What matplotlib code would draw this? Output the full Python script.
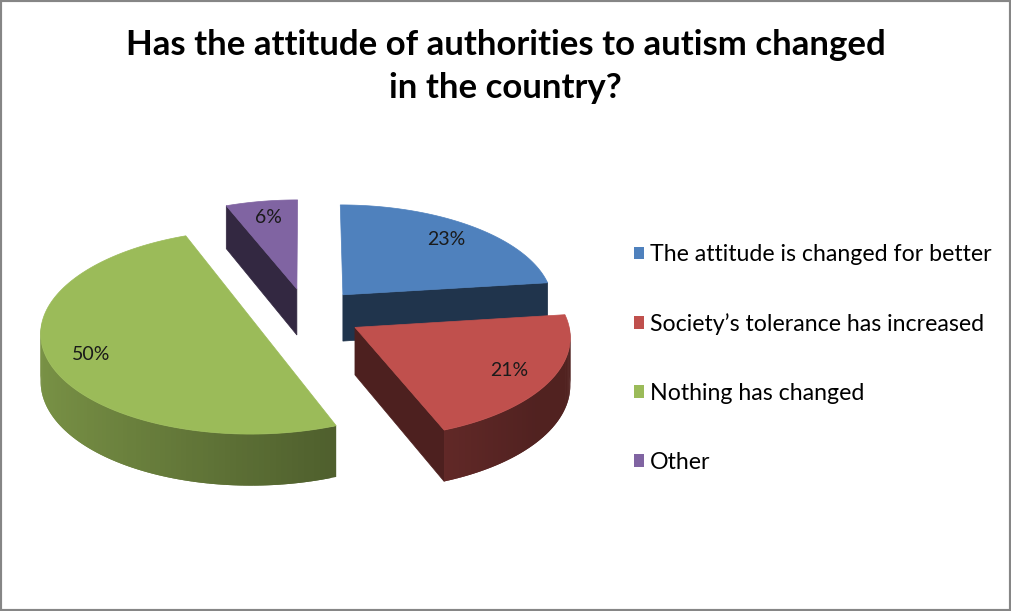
import numpy as np
import matplotlib
matplotlib.use('Agg')
import matplotlib.pyplot as plt
from matplotlib.patches import Polygon, Patch, Rectangle
from matplotlib.colors import to_rgb

# data
categories = ['The attitude is changed for better',
              'Society\u2019s tolerance has increased',
              'Nothing has changed',
              'Other']
values = [23, 21, 50, 6]
pct_labels = ['23%', '21%', '50%', '6%']
colors = ['#4f81bd', '#c0504d', '#9bbb59', '#8064a2']

# geometry of the fake 3d pie (pixels)
W, H = 1011, 611
CX, CY = 307, 314
RX, RY = 212, 100
DEPTH = 47
EXPLODE = 0.26
PERSP = 0.08

plt.rcParams['font.family'] = ['Lato', 'DejaVu Sans']

fig = plt.figure(figsize=(W / 100, H / 100), dpi=100)
ax = fig.add_axes([0, 0, 1, 1])
ax.set_xlim(0, W)
ax.set_ylim(H, 0)
ax.axis('off')


def project(X, Y, Z):
    s = 1.0 / (1.0 + PERSP * Y)
    return CX + RX * X * s, CY - (RY * Y + DEPTH * Z) * s


def shade(c, f):
    r, g, b = to_rgb(c)
    return (r * f, g * f, b * f)


total = float(sum(values))
ends = np.cumsum(values) / total * 2 * np.pi
starts = ends - np.array(values) / total * 2 * np.pi
mids = (starts + ends) / 2

# back slices first
order = sorted(range(len(values)), key=lambda i: -np.cos(mids[i]))

for i in order:
    t0, t1, tm = starts[i], ends[i], mids[i]
    ox, oy = EXPLODE * np.sin(tm), EXPLODE * np.cos(tm)

    def pt(t, r, z):
        return project(ox + r * np.sin(t), oy + r * np.cos(t), z)

    col = colors[i]
    # flat side walls
    for t, vis in ((t0, np.sin(t0) < -1e-6), (t1, np.sin(t1) > 1e-6)):
        if vis:
            quad = [pt(t, 0, 0), pt(t, 1, 0), pt(t, 1, -1), pt(t, 0, -1)]
            ax.add_patch(Polygon(quad, closed=True, facecolor=shade(col, 0.4),
                                 edgecolor=shade(col, 0.4), linewidth=0.5))
    # curved outer wall with gradient (strips overlap to hide seams)
    a, b = max(t0, np.pi / 2), min(t1, 3 * np.pi / 2)
    if b > a:
        ts = np.linspace(a, b, 81)
        for k in range(len(ts) - 1):
            k2 = min(k + 2, len(ts) - 1)
            f = 0.58 - 0.2 * np.sin((ts[k] + ts[k + 1]) / 2)
            f = max(f, 0.42)
            seg = np.linspace(ts[k], ts[k2], 4)
            quad = ([pt(t, 1, 0) for t in seg] +
                    [pt(t, 1, -1) for t in seg[::-1]])
            ax.add_patch(Polygon(quad, closed=True, facecolor=shade(col, f),
                                 edgecolor='none', linewidth=0))
    # top face
    rim = [pt(t, 1, 0) for t in np.linspace(t0, t1, 120)]
    ax.add_patch(Polygon([pt(0, 0, 0)] + rim, closed=True, facecolor=col,
                         edgecolor=col, linewidth=0.5))
    lx, ly = pt(tm, 0.8, 0)
    ax.text(lx, ly, pct_labels[i], ha='center', va='center', fontsize=14,
            color='#1a1a1a')

fig.text(0.5, 0.891, 'Has the attitude of authorities to autism changed\nin the country?',
         ha='center', va='center', fontsize=25, fontweight='bold',
         linespacing=1.45, color='black')

handles = [Patch(facecolor=c, edgecolor='none') for c in colors]
fig.legend(handles, categories, loc='upper left',
           bbox_to_anchor=(634 / W, 1 - 244 / H), frameon=False,
           prop={'family': 'Lato', 'size': 16.7}, labelspacing=2.07,
           handlelength=0.45, handleheight=0.45, handletextpad=0.25,
           borderaxespad=0, borderpad=0)

fig.add_artist(Rectangle((0, 0), 1, 1, transform=fig.transFigure, fill=False,
                         edgecolor='#868686', linewidth=3))

plt.savefig('out.png', dpi=100)
